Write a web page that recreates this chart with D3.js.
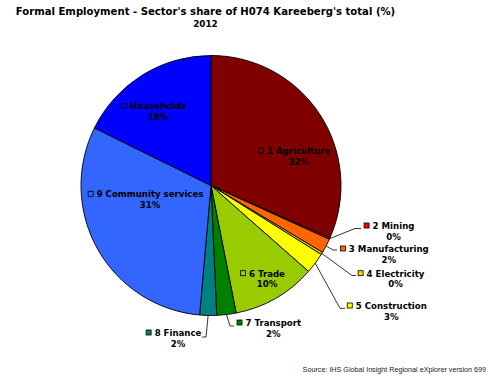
<!DOCTYPE html>
<html>
<head>
<meta charset="utf-8">
<script src="https://cdn.jsdelivr.net/npm/d3@7"></script>
<style>
  html, body { margin: 0; padding: 0; background: #fff; }
  svg { display: block; }
</style>
</head>
<body>
<svg id="chart" width="490" height="379"></svg>
<script>
// Sector shares of formal employment (percent), clockwise from 12 o'clock
const sectors = ["1 Agriculture", "2 Mining", "3 Manufacturing", "4 Electricity", "5 Construction",
                 "6 Trade", "7 Transport", "8 Finance", "9 Community services", "Households"];
const shares = [31.6, 0.2, 1.8, 0.3, 2.6, 10.4, 2.4, 2.1, 30.9, 17.7];
const colors = ["#800000", "#FF0000", "#FF6600", "#FFCC00", "#FFFF00",
                "#99CC00", "#008000", "#008080", "#3366FF", "#0000FF"];
const titleText = "Formal Employment - Sector's share of H074 Kareeberg's total (%)";
const yearText = "2012";
const sourceText = "Source: IHS Global Insight Regional eXplorer version 699";

// Label placement: text centre x, first baseline y, whether it sits outside with a leader line
const labelLayout = [
  { cx: 298.7, y: 154,   outside: false },
  { cx: 393.5, y: 229,   outside: true, elbow: [355, 228.5], end: [361, 228.5] },
  { cx: 388.8, y: 252,   outside: true, elbow: [333, 250], end: [337, 250] },
  { cx: 395.5, y: 276.7, outside: true, elbow: [352, 275.5], end: [356, 275.5] },
  { cx: 391.3, y: 309,   outside: true, elbow: [340, 308.3], end: [345, 308.3] },
  { cx: 267,   y: 276.7, outside: false },
  { cx: 273.3, y: 326,   outside: true, elbow: [230, 326], end: [234, 326] },
  { cx: 178,   y: 336,   outside: true, elbow: [206, 337], end: [202, 337] },
  { cx: 150,   y: 197.3, outside: false },
  { cx: 158,   y: 109.3, outside: false }
];

const svg = d3.select("#chart");
const cx = 211, cy = 185.5, r = 130;

svg.append("text")
  .attr("x", 205.5).attr("y", 14.5)
  .attr("text-anchor", "middle")
  .attr("font-family", "DejaVu Sans, Verdana, sans-serif")
  .attr("font-weight", "bold").attr("font-size", 10.1)
  .attr("fill", "#000")
  .text(titleText);
svg.append("text")
  .attr("x", 205.5).attr("y", 26.5)
  .attr("text-anchor", "middle")
  .attr("font-family", "DejaVu Sans, Verdana, sans-serif")
  .attr("font-weight", "bold").attr("font-size", 8.8)
  .attr("fill", "#000")
  .text(yearText);

const data = sectors.map((s, i) => ({ name: s, value: shares[i], color: colors[i], layout: labelLayout[i] }));
const pie = d3.pie().value(d => d.value).sort(null);
const arcs = pie(data);
const arc = d3.arc().innerRadius(0).outerRadius(r);

const g = svg.append("g").attr("transform", `translate(${cx},${cy})`);
g.selectAll("path.slice")
  .data(arcs)
  .join("path")
  .attr("class", "slice")
  .attr("d", arc)
  .attr("fill", d => d.data.color)
  .attr("stroke", "#000")
  .attr("stroke-width", 0.9)
  .attr("stroke-linejoin", "round");

// Leader lines from the slice's outer edge to the label
arcs.forEach(a => {
  const L = a.data.layout;
  if (!L.outside) return;
  const mid = (a.startAngle + a.endAngle) / 2;
  const sx = cx + r * Math.sin(mid), sy = cy - r * Math.cos(mid);
  svg.append("polyline")
    .attr("points", [[sx, sy], L.elbow, L.end].map(p => p.join(",")).join(" "))
    .attr("fill", "none")
    .attr("stroke", "#000")
    .attr("stroke-width", 0.8);
});

// Labels: marker square, sector name, rounded share
const font = "DejaVu Sans, Verdana, sans-serif";
arcs.forEach(a => {
  const L = a.data.layout;
  const t1 = svg.append("text")
    .attr("x", L.cx).attr("y", L.y)
    .attr("text-anchor", "middle")
    .attr("font-family", font).attr("font-weight", "bold").attr("font-size", 8.6)
    .attr("fill", "#000")
    .text(a.data.name);
  const w = t1.node().getComputedTextLength();
  svg.append("rect")
    .attr("x", L.cx - w / 2 - 8.5).attr("y", L.y - 6)
    .attr("width", 5).attr("height", 5)
    .attr("fill", L.outside ? a.data.color : "none")
    .attr("stroke", "#000").attr("stroke-width", 0.8);
  svg.append("text")
    .attr("x", L.cx).attr("y", L.y + 10.5)
    .attr("text-anchor", "middle")
    .attr("font-family", font).attr("font-weight", "bold").attr("font-size", 8.6)
    .attr("fill", "#000")
    .text(Math.round(a.data.value) + "%");
});

svg.append("text")
  .attr("x", 486).attr("y", 371.5)
  .attr("text-anchor", "end")
  .attr("font-family", "Liberation Sans, Arial, sans-serif")
  .attr("font-size", 7.2)
  .attr("fill", "#222")
  .text(sourceText);
</script>
</body>
</html>
